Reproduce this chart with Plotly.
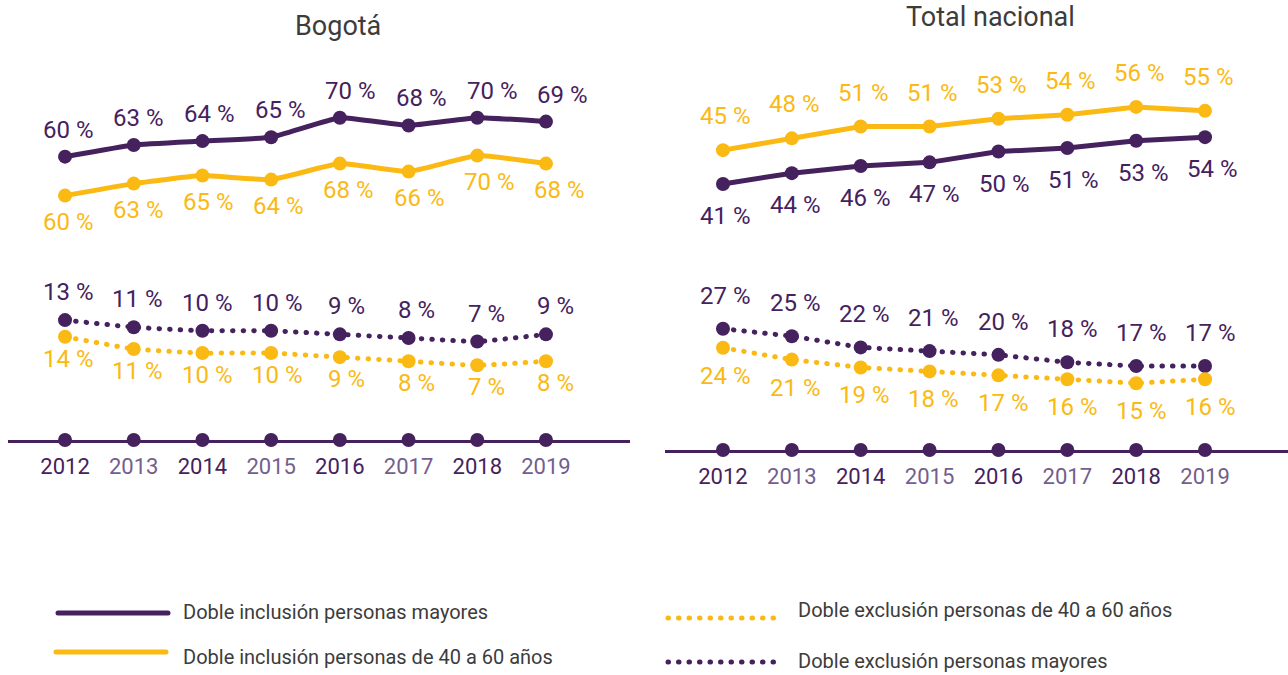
import plotly.graph_objects as go

# ---------------- data ----------------
years = [2012, 2013, 2014, 2015, 2016, 2017, 2018, 2019]

bog_incl_mayores = [60, 63, 64, 65, 70, 68, 70, 69]
bog_incl_40_60 = [60, 63, 65, 64, 68, 66, 70, 68]
bog_excl_mayores = [13, 11, 10, 10, 9, 8, 7, 9]
bog_excl_40_60 = [14, 11, 10, 10, 9, 8, 7, 8]

nac_incl_40_60 = [45, 48, 51, 51, 53, 54, 56, 55]
nac_incl_mayores = [41, 44, 46, 47, 50, 51, 53, 54]
nac_excl_mayores = [27, 25, 22, 21, 20, 18, 17, 17]
nac_excl_40_60 = [24, 21, 19, 18, 17, 16, 15, 16]

panel_titles = ["Bogotá", "Total nacional"]
legend_labels = [
    "Doble inclusión personas mayores",
    "Doble inclusión personas de 40 a 60 años",
    "Doble exclusión personas de 40 a 60 años",
    "Doble exclusión personas mayores",
]

# ---------------- style ----------------
W, H = 1288, 675
PURPLE = "#45215e"
PURPLE_LIGHT = "#735e8e"
YELLOW = "#fbb914"
GREY = "#3c3c3c"
FONT = "Roboto"
DOT = "0.5px,10px"


def px(x):
    return x / W


def py(y):
    return 1 - y / H


fig = go.Figure()

panels = [
    dict(x="x", base="y", series=[
        ("y2", bog_incl_mayores, PURPLE, "solid", 25, 2),
        ("y3", bog_incl_40_60, YELLOW, "solid", -28, 1.5),
        ("y4", bog_excl_mayores, PURPLE, "dot", 26, 1),
        ("y5", bog_excl_40_60, YELLOW, "dot", -24, 1),
    ], spline=True),
    dict(x="x2", base="y6", series=[
        ("y7", nac_incl_40_60, YELLOW, "solid", 32, 0),
        ("y8", nac_incl_mayores, PURPLE, "solid", -34, 0.7),
        ("y9", nac_excl_mayores, PURPLE, "dot", 31, 0.4),
        ("y10", nac_excl_40_60, YELLOW, "dot", -30, 0.4),
    ], spline=False),
]

annotations = []
for p in panels:
    fig.add_trace(go.Scatter(
        x=years, y=[0] * len(years), xaxis=p["x"], yaxis=p["base"],
        mode="markers", marker=dict(size=14, color=PURPLE),
        cliponaxis=False, showlegend=False, hoverinfo="skip"))
    for yax, vals, col, dash, yshift, xstep in p["series"]:
        line = dict(color=col, width=5)
        if dash == "dot":
            line["dash"] = DOT
        if p["spline"]:
            line["shape"] = "spline"
            line["smoothing"] = 0.35
        fig.add_trace(go.Scatter(
            x=years, y=vals, xaxis=p["x"], yaxis=yax,
            mode="lines+markers", line=line,
            marker=dict(size=14, color=col),
            cliponaxis=False, showlegend=False, hoverinfo="skip"))
        for i, (yr, v) in enumerate(zip(years, vals)):
            annotations.append(dict(
                x=yr, y=v, xref=p["x"], yref=yax,
                text=f"{v} %", showarrow=False,
                xanchor="center", yanchor="middle",
                xshift=3 + xstep * i, yshift=yshift + 2,
                font=dict(family=FONT, size=24, color=col)))


def tick_text(yrs):
    out = []
    for i, yr in enumerate(yrs):
        c = PURPLE if i % 2 == 0 else PURPLE_LIGHT
        out.append(f"<span style='color:{c}'>{yr}</span>")
    return out


xcommon = dict(showgrid=False, zeroline=False, showline=True, linecolor=PURPLE,
               linewidth=3, ticks="", tickmode="array", tickvals=years,
               ticktext=tick_text(years), ticklabelstandoff=5,
               tickfont=dict(family=FONT, size=22, color=PURPLE))

layout = dict(
    width=W, height=H, margin=dict(l=0, r=0, t=0, b=0, pad=0),
    paper_bgcolor="white", plot_bgcolor="rgba(0,0,0,0)",
    xaxis=dict(domain=[px(8), px(630)], range=[2011.170, 2020.223],
               anchor="y", **xcommon),
    xaxis2=dict(domain=[px(665), 1.0], range=[2011.158, 2020.205],
                anchor="y6", **xcommon),
    yaxis=dict(domain=[py(440), 1.0], range=[0, 1], visible=False, anchor="x"),
    yaxis6=dict(domain=[py(450), 1.0], range=[0, 1], visible=False, anchor="x2"),
)

overlay_ranges = {
    "y2": ([-12.7, 100.2], "y", "x"),
    "y3": ([-1.1, 108.9], "y", "x"),
    "y4": ([-20.6, 102.7], "y", "x"),
    "y5": ([-11.3, 96.5], "y", "x"),
    "y7": ([-31.3, 83.2], "y6", "x2"),
    "y8": ([-32.9, 92.1], "y6", "x2"),
    "y9": ([-5.5, 115.1], "y6", "x2"),
    "y10": ([-2.0, 112.5], "y6", "x2"),
}
for name, (rng, base, xa) in overlay_ranges.items():
    layout["yaxis" + name[1:]] = dict(range=rng, overlaying=base, anchor=xa,
                                      visible=False)

for title, cx, cy in zip(panel_titles, [338, 990], [26, 17]):
    annotations.append(dict(
        x=px(cx), y=py(cy), xref="paper", yref="paper", text=title,
        showarrow=False, xanchor="center", yanchor="middle",
        font=dict(family=FONT, size=27, color=GREY)))

legend_items = [
    (legend_labels[0], PURPLE, "solid", 58, 168, 613, 181, 612),
    (legend_labels[1], YELLOW, "solid", 56, 166, 652, 181, 657),
    (legend_labels[2], YELLOW, "dot", 668, 780, 618, 796, 610),
    (legend_labels[3], PURPLE, "dot", 668, 780, 662, 796, 661),
]
shapes = []
for lab, col, dash, x0, x1, ly, tx, ty in legend_items:
    ln = dict(color=col, width=5)
    if dash == "dot":
        ln["dash"] = DOT
    shapes.append(dict(type="line", xref="paper", yref="paper",
                       x0=px(x0), x1=px(x1), y0=py(ly), y1=py(ly), line=ln))
    annotations.append(dict(
        x=px(tx), y=py(ty), xref="paper", yref="paper", text=lab,
        showarrow=False, xanchor="left", yanchor="middle",
        font=dict(family=FONT, size=20, color=GREY)))

layout["annotations"] = annotations
layout["shapes"] = shapes
fig.update_layout(**layout)

post = (
    "document.body.style.margin='0';"
    "document.body.style.overflow='hidden';"
    "document.querySelectorAll('.js-line, .shapelayer path').forEach("
    "function(el){el.style.strokeLinecap='round';});"
)
fig.write_html("out.html", post_script=post,
               config={"displayModeBar": False, "staticPlot": True})
